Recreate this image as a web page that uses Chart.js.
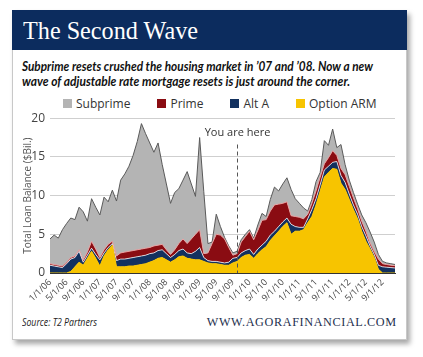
<!DOCTYPE html>
<html>
<head>
<meta charset="utf-8">
<script src="https://cdn.jsdelivr.net/npm/chart.js@4.4.1/dist/chart.umd.min.js"></script>
<style>
  html,body{margin:0;padding:0;background:#fff;}
  body{width:423px;height:357px;position:relative;overflow:hidden;font-family:'Open Sans',sans-serif;}
  #card{position:absolute;left:12px;top:10px;width:393px;height:328px;background:#fff;border:1px solid #c8c8c8;box-shadow:3px 4px 5px rgba(0,0,0,0.35);}
  #head{position:absolute;left:12px;top:10px;width:395px;height:40px;background:#0c2c5e;}
  .fit{position:absolute;white-space:nowrap;display:inline-block;transform-origin:left center;}
  #title{left:23px;top:18px;font-family:'Liberation Serif',serif;font-size:25px;line-height:25px;color:#fff;}
  .sub{left:22px;font-family:'Liberation Sans Narrow','Lato',sans-serif;font-weight:bold;font-style:italic;font-size:13px;line-height:15px;color:#111;}
  #sub1{top:59px;} #sub2{top:74px;}
  #legend{position:absolute;left:63px;top:97px;display:flex;gap:27px;font-size:12px;line-height:13px;color:#333;}
  #legend span.item{display:flex;align-items:center;}
  #legend i{display:inline-block;width:9px;height:9px;margin-right:4px;}
  #src{left:22px;top:315px;font-style:italic;font-size:10px;line-height:14px;color:#222;}
  #url{top:315px;font-family:'Liberation Serif',serif;font-size:12px;line-height:14px;letter-spacing:0.6px;color:#1e2f4e;transform-origin:right center;}
  #c{position:absolute;left:12px;top:106px;}
</style>
</head>
<body>
<div id="card"></div>
<div id="head"></div>
<div id="title" class="fit">The Second Wave</div>
<div id="sub1" class="fit sub">Subprime resets crushed the housing market in ’07 and ’08. Now a new</div>
<div id="sub2" class="fit sub">wave of adjustable rate mortgage resets is just around the corner.</div>
<div id="legend"></div>
<canvas id="c" width="395" height="208"></canvas>
<div id="src" class="fit">Source: T2 Partners</div>
<div id="url" class="fit">WWW.AGORAFINANCIAL.COM</div>
<script>
// ---- categories (monthly) ----
const months = [
 '1/1/06','2/1/06','3/1/06','4/1/06','5/1/06','6/1/06','7/1/06','8/1/06','9/1/06','10/1/06','11/1/06','12/1/06',
 '1/1/07','2/1/07','3/1/07','4/1/07','5/1/07','6/1/07','7/1/07','8/1/07','9/1/07','10/1/07','11/1/07','12/1/07',
 '1/1/08','2/1/08','3/1/08','4/1/08','5/1/08','6/1/08','7/1/08','8/1/08','9/1/08','10/1/08','11/1/08','12/1/08',
 '1/1/09','2/1/09','3/1/09','4/1/09','5/1/09','6/1/09','7/1/09','8/1/09','9/1/09','10/1/09','11/1/09','12/1/09',
 '1/1/10','2/1/10','3/1/10','4/1/10','5/1/10','6/1/10','7/1/10','8/1/10','9/1/10','10/1/10','11/1/10','12/1/10',
 '1/1/11','2/1/11','3/1/11','4/1/11','5/1/11','6/1/11','7/1/11','8/1/11','9/1/11','10/1/11','11/1/11','12/1/11',
 '1/1/12','2/1/12','3/1/12','4/1/12','5/1/12','6/1/12','7/1/12','8/1/12','9/1/12','10/1/12','11/1/12','12/1/12'
];
// ---- tick labels shown on the x axis ----
const tickLabels = ['1/1/06','5/1/06','9/1/06','1/1/07','5/1/07','9/1/07','1/1/08','5/1/08','9/1/08',
 '1/1/09','5/1/09','9/1/09','1/1/10','5/1/10','9/1/10','1/1/11','5/1/11','9/1/11','1/1/12','5/1/12','9/1/12'];
const yTicks = [0,5,10,15,20];
// ---- series values ($Bil.) ----
const optionARM = [0,0,0,0,0,0.2,0.8,1.4,1.0,1.9,2.8,1.9,0.9,2.2,3.0,3.6,0.8,0.8,0.8,0.9,0.9,1.0,1.1,1.2,1.4,1.6,1.9,2.0,1.7,1.4,1.7,2.1,2.2,1.9,1.8,1.7,1.7,1.5,1.3,1.2,1.2,1.1,1.0,1.0,1.3,1.5,2.0,2.3,2.4,1.9,2.5,3.0,3.4,4.2,4.8,5.4,6.0,6.5,5.0,5.4,5.4,5.6,6.5,7.3,8.8,10.6,12.4,13.0,13.5,13.4,11.6,10.8,9.5,8.2,7.0,5.4,4.1,3.1,2.0,0.5,0,0,0,0];
const altA = [1.0,0.9,0.8,0.7,1.2,1.6,1.2,1.4,0.4,0.4,0.4,0.5,0.8,0.4,0.3,0.2,0.8,1.0,1.0,1.0,1.1,1.1,1.1,1.1,1.1,1.0,1.0,1.0,0.8,0.6,0.7,0.8,0.9,0.7,0.7,1.1,1.6,0.5,0.3,0.3,0.3,0.3,0.3,0.4,0.6,0.5,0.6,0.6,0.7,0.5,0.6,0.6,0.7,0.7,0.6,0.6,0.6,0.6,1.3,0.6,0.5,0.3,0.5,0.9,0.8,0.8,0.9,0.8,0.8,1.0,1.0,0.9,0.7,0.6,0.6,0.6,0.7,0.4,0.4,0.5,0.8,0.75,0.7,0.65];
const prime = [0.2,0.2,0.2,0.2,0.2,0.2,0.2,0.2,0.3,0.4,0.9,0.7,0.3,0.4,0.4,0.3,0.6,0.8,0.9,0.9,0.9,0.9,0.9,0.9,0.8,0.9,0.7,0.7,0.5,0.4,0.6,0.9,1.3,1.2,1.9,2.2,2.3,0.5,1.0,2.3,3.5,3.5,3.1,1.9,0.4,0.5,1.4,1.8,2.3,1.9,2.4,3.2,2.8,3.1,3.4,2.9,2.4,2.1,1.1,1.3,1.3,1.1,0.6,0.8,1.0,1.0,0.8,1.1,1.5,0.8,0.9,1.0,1.0,0.9,0.7,0.7,0.6,0.4,0.4,0.8,0.4,0.35,0.3,0.3];
const subprime = [3.2,3.8,3.5,4.7,5.0,5.1,4.7,5.5,6.2,4.0,5.5,5.4,5.5,6.8,5.5,6.6,7.1,9.4,10.1,11.0,12.3,14.0,16.2,14.8,13.5,12.1,13.2,10.3,8.5,6.6,7.4,7.1,7.6,9.3,7.1,4.9,11.9,8.0,1.2,0.2,2.6,1.1,0.2,0.2,0.3,0.3,0.3,0.3,0.2,0.2,0.7,0.9,0.4,1.5,2.3,1.7,2.5,3.1,3.4,2.3,1.8,1.4,0.4,0.5,1.2,0.6,3.0,1.6,2.8,1.0,3.1,1.3,0.8,0.7,0.6,0.8,1.1,1.4,1.2,0.6,0.3,0.2,0.2,0.15];
const markerLabel = '10/1/09';
const markerText = 'You are here';

const series = [
  {label:'Option ARM', data:optionARM, color:'#f7c400', line:'#f7c400'},
  {label:'Alt A', data:altA, color:'#13315f', line:'rgba(255,255,255,0.75)'},
  {label:'Prime', data:prime, color:'#8a0c12', line:'#e8a3a3'},
  {label:'Subprime', data:subprime, color:'#b4b4b4', line:'#5a5a5a'}
];

// legend (top-down order as in reference)
const lg = document.getElementById('legend');
series.slice().reverse().forEach(s=>{
  const it = document.createElement('span'); it.className='item';
  it.innerHTML = '<i style="background:'+s.color+'"></i>'+s.label;
  lg.appendChild(it);
});

function fit(id, w, right){
  const el = document.getElementById(id);
  const bw = el.getBoundingClientRect().width;
  if (right !== undefined) { el.style.left = (right - bw) + 'px'; }
  el.style.transform = 'scaleX(' + (w/bw) + ')';
}
fit('title',175); fit('sub1',351); fit('sub2',328); fit('src',75); fit('url',190,397);

Chart.defaults.font.family = "'Open Sans', sans-serif";

const youAreHere = {
  id:'yah',
  afterDatasetsDraw(chart){
    const {ctx, scales:{x,y}} = chart;
    const px = Math.round(x.getPixelForValue(months.indexOf(markerLabel))) + 0.5;
    ctx.save();
    ctx.strokeStyle = '#555'; ctx.lineWidth = 1; ctx.setLineDash([4,3]);
    ctx.beginPath(); ctx.moveTo(px, y.getPixelForValue(16.6)); ctx.lineTo(px, y.getPixelForValue(0)); ctx.stroke();
    ctx.setLineDash([]);
    ctx.fillStyle = '#333'; ctx.font = "11px 'Open Sans'"; ctx.textAlign='center'; ctx.textBaseline='middle';
    ctx.fillText(markerText, px, y.getPixelForValue(18.05));
    ctx.restore();
  }
};

new Chart(document.getElementById('c'), {
  type:'line',
  data:{
    labels:months,
    datasets:series.map((s,i)=>({
      label:s.label, data:s.data, backgroundColor:s.color, borderColor:s.line,
      borderWidth:1, fill: i===0 ? 'origin' : '-1', pointRadius:0, tension:0
    }))
  },
  options:{
    responsive:false, animation:false,
    layout:{padding:{top:10,right:12,left:0,bottom:0}},
    plugins:{legend:{display:false}, tooltip:{enabled:false}},
    scales:{
      x:{
        stacked:true,
        grid:{display:false, drawTicks:false},
        border:{display:true, color:'#333', width:1},
        ticks:{autoSkip:false, maxRotation:45, minRotation:45, padding:4, color:'#444',
          font:{size:9},
          callback:function(v,i){ const l = months[i]; return tickLabels.includes(l) ? l : ''; }},
        afterFit:s=>{ s.height = 41; }
      },
      y:{
        stacked:true, min:yTicks[0], max:yTicks[yTicks.length-1],
        ticks:{stepSize:5, padding:5, color:'#444', font:{size:12}},
        grid:{color:'#cfcfcf', drawTicks:false},
        border:{display:false},
        title:{display:true, text:'Total Loan Balance ($Bil.)', color:'#555', font:{size:10}, padding:{top:10,bottom:0}},
        afterFit:s=>{ s.width = 38; }
      }
    }
  },
  plugins:[youAreHere]
});
</script>
</body>
</html>
